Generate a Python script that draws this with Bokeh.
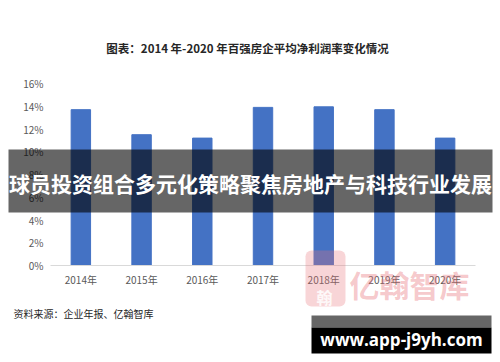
from bokeh.plotting import figure
from bokeh.models import (Label, BoxAnnotation, FixedTicker, PrintfTickFormatter,
                          ColumnDataSource, Range1d)
from bokeh.embed import file_html
from bokeh.resources import INLINE

years = ["2014年", "2015年", "2016年", "2017年", "2018年", "2019年", "2020年"]
margin = [13.7, 11.5, 11.2, 13.9, 13.95, 13.7, 11.2]
y_ticks = [0, 2, 4, 6, 8, 10, 12, 14, 16]

title_text = "图表：2014 年-2020 年百强房企平均净利润率变化情况"
source_text = "资料来源：企业年报、亿翰智库"
banner_text = "球员投资组合多元化策略聚焦房地产与科技行业发展"
url_text = "www.app-j9yh.com"
watermark_text = "亿翰智库"

CJK = "Noto Sans CJK SC"

# layout (pixels inside a 500x362 figure)
W, H = 500, 362
PL, PR, PT, PB = 50, 25, 83, 97          # plot area insets
n = len(years)
cw = (W - PL - PR) / n                     # pixels per category
ymax = y_ticks[-1]
py = (H - PT - PB) / ymax                  # pixels per percent

xs = [i + 0.5 for i in range(n)]
src = ColumnDataSource(dict(x=xs, year=years, margin=margin))

p = figure(width=W, height=H,
           x_range=Range1d(-PL / cw, n + PR / cw),
           y_range=Range1d(-PB / py, ymax + PT / py),
           output_backend="svg", toolbar_location=None,
           min_border=0, min_border_left=0, min_border_right=0,
           min_border_top=0, min_border_bottom=0)
p.outline_line_color = None
p.background_fill_color = "white"
p.border_fill_color = "white"
p.xgrid.grid_line_color = None
p.ygrid.grid_line_color = None

p.vbar(x="x", top="margin", width=0.32, source=src, color="#4472C4")
# category axis base line
p.segment(x0=[0], y0=[0], x1=[n], y1=[0], line_color="#d9d9d9", line_width=1)

# axes pinned inside the frame
xa = p.xaxis[0]
xa.fixed_location = 0
xa.ticker = FixedTicker(ticks=xs)
xa.major_label_overrides = {x: y for x, y in zip(xs, years)}
xa.axis_line_color = None
xa.major_tick_line_color = None
xa.minor_tick_line_color = None
xa.major_tick_out = 0
xa.major_tick_in = 0
xa.major_label_text_font = CJK
xa.major_label_text_font_size = "10px"
xa.major_label_text_color = "#595959"
xa.major_label_standoff = 6

ya = p.yaxis[0]
ya.fixed_location = 0
ya.axis_line_color = None
ya.major_tick_line_color = None
ya.minor_tick_line_color = None
ya.major_tick_out = 0
ya.major_tick_in = 0
ya.ticker = FixedTicker(ticks=y_ticks)
ya.formatter = PrintfTickFormatter(format="%d%%")
ya.major_label_text_font = CJK
ya.major_label_text_font_size = "10px"
ya.major_label_text_color = "#595959"
ya.major_label_standoff = 7


def box(l, r, t, b, **kw):
    return BoxAnnotation(left=l, right=r, top=t, bottom=b,
                         left_units="screen", right_units="screen",
                         top_units="screen", bottom_units="screen",
                         line_color=None, **kw)


def label(x, y, text, **kw):
    return Label(x=x, y=y, x_units="screen", y_units="screen", text=text,
                 text_baseline="middle", **kw)


# title
p.add_layout(label(247, 315, title_text, text_font=CJK, text_font_size="11.5px",
                   text_font_style="bold", text_color="#262626", text_align="center"))
# source note
p.add_layout(label(13, 49, source_text, text_font=CJK, text_font_size="10px",
                   text_color="#262626", text_align="left"))

# watermark
p.add_layout(box(305, 345, 112, 56, fill_color="#e8737a", fill_alpha=0.3,
                 border_radius=6))
p.add_layout(label(324, 66, "翰", text_font=CJK, text_font_size="16px",
                   text_font_style="bold", text_color="white", text_alpha=0.85,
                   text_align="center"))
p.add_layout(label(409, 79, watermark_text, text_font=CJK, text_font_size="30px",
                   text_font_style="bold", text_color="#e8737a", text_alpha=0.4,
                   text_align="center"))

# banner
p.add_layout(box(8, 492, 213, 150, fill_color="black", fill_alpha=0.6))
p.add_layout(label(250, 180, banner_text, text_font=CJK, text_font_size="21px",
                   text_font_style="bold", text_color="white", text_align="center"))

# url box
p.add_layout(box(311, 491, 47, 35, fill_color="#666666", fill_alpha=1.0))
p.add_layout(box(311, 491, 35, 9, fill_color="black", fill_alpha=1.0))
p.add_layout(label(401, 23, url_text, text_font="Open Sans", text_font_size="17px",
                   text_font_style="bold", text_color="white", text_align="center"))

open("out.html", "w").write(file_html(p, INLINE))
